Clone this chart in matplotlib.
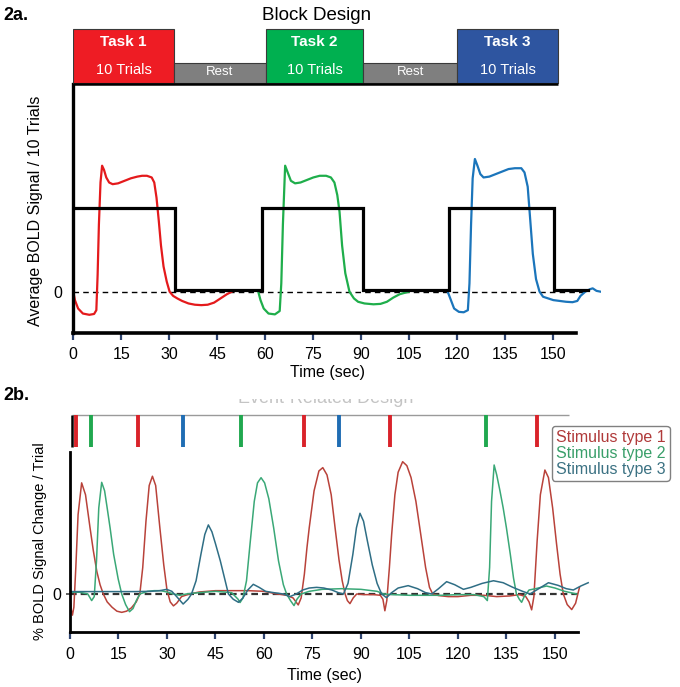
import matplotlib
matplotlib.use('Agg')
import matplotlib.pyplot as plt
from matplotlib.patches import Rectangle
from matplotlib.lines import Line2D

plt.rcParams['font.family'] = ['Liberation Sans', 'DejaVu Sans']

# ---------------- Panel 2a data ----------------
block_labels = ['Task 1', 'Rest', 'Task 2', 'Rest', 'Task 3']
block_sublabels = ['10 Trials', '', '10 Trials', '', '10 Trials']
block_edges = [0, 31.4, 60.2, 90.6, 120.0, 151.5]
block_colors = ['#ee1c24', '#7f7f7f', '#00b050', '#7f7f7f', '#2e55a0']
design_on = [0, 59.0, 117.4]
design_off = [31.8, 90.6, 150.2]
design_end = 160.7
design_high = 1.0
design_low = 0.02

task1_t = [0, 0.5, 1.5, 3, 5, 6.5, 7.2, 7.6, 8.0, 8.5, 9.0, 9.6, 10.3, 11.2, 12.3, 14, 16, 18, 20, 21.5,
           23, 24.5, 25.3, 26.0, 26.7, 27.4, 28.2, 29.2, 30.1, 31.2, 32.5, 34, 36, 38, 40, 42, 44, 46, 48, 49.5]
task1_y = [0, -0.1, -0.2, -0.26, -0.275, -0.265, -0.22, 0.2, 0.8, 1.3, 1.5, 1.45, 1.36, 1.3, 1.28, 1.29, 1.32,
           1.35, 1.37, 1.38, 1.38, 1.36, 1.3, 1.12, 0.85, 0.55, 0.3, 0.12, 0.0, -0.05, -0.08, -0.11, -0.14,
           -0.155, -0.16, -0.155, -0.13, -0.08, -0.03, 0.0]

task2_t = [57.8, 58.5, 59.5, 61, 63, 64.5, 65.0, 65.5, 66.2, 67, 68, 69.3, 71, 73, 75, 77, 79, 80.5, 81.6,
           82.5, 83.2, 84.0, 85.0, 86.3, 87.7, 89, 91, 93.8, 96, 98, 100, 102, 104.8]
task2_y = [0, -0.1, -0.2, -0.26, -0.27, -0.23, 0.1, 0.8, 1.5, 1.42, 1.32, 1.29, 1.3, 1.33, 1.36, 1.38,
           1.38, 1.36, 1.3, 1.15, 0.95, 0.55, 0.22, 0.0, -0.08, -0.12, -0.14, -0.15, -0.145, -0.12, -0.07,
           -0.03, 0.0]

task3_t = [117, 118, 119, 120.5, 122, 123.3, 123.8, 124.3, 124.8, 125.5, 126.3, 127.2, 128.2, 130, 132,
           134, 136, 138, 140, 141, 142, 142.8, 143.6, 144.6, 145.7, 146.8, 148.4, 150, 152, 154, 156,
           157.5, 158.5, 160, 161.5, 162.3, 163.5, 164.8]
task3_y = [0, -0.1, -0.2, -0.24, -0.245, -0.22, 0.1, 0.8, 1.35, 1.58, 1.5, 1.4, 1.36, 1.37, 1.4, 1.43,
           1.46, 1.47, 1.47, 1.42, 1.25, 0.85, 0.45, 0.15, 0.0, -0.06, -0.08, -0.1, -0.11, -0.12, -0.125,
           -0.11, -0.05, 0.0, 0.03, 0.04, 0.01, 0.0]

time_ticks = [0, 15, 30, 45, 60, 75, 90, 105, 120, 135, 150]

# ---------------- Panel 2b data ----------------
stim_times = [1.8, 6.5, 21.1, 34.9, 53.0, 72.5, 83.2, 99.1, 128.6, 144.5]
stim_types = [1, 2, 1, 3, 2, 1, 3, 1, 2, 1]
stim_names = ['Stimulus type 1', 'Stimulus type 2', 'Stimulus type 3']

type1_t = [0, 0.4, 0.75, 1.2, 1.8, 2.5, 3.6, 4.8, 6.2, 7.2, 8.3, 9.3, 10.3, 11.5, 13, 14.5, 16, 17.5, 19,
           20.5, 21.6, 22.5, 23.5, 24.5, 25.5, 26.5, 27.8, 29, 30, 31, 32, 33, 34.5, 37, 40, 45, 50, 55, 60,
           64, 67, 69, 70.6, 71.5, 72.5, 73.3, 74.0, 75.5, 77, 78.2, 79.5, 80.8, 82, 83.2, 84.2, 85.1, 85.8,
           86.6, 87.6, 88.7, 91, 94, 96, 96.8, 97.4, 98, 98.8, 99.5, 100.5, 101.5, 102.9, 104.2, 105.5, 107,
           108.5, 110, 111.2, 112.2, 114, 117, 120, 124, 128, 132, 136, 139, 141, 142, 142.8, 143.5, 144.5,
           145.5, 146.9, 148, 149.3, 150.5, 151.6, 152.6, 153.8, 155.2, 156.4, 157.6]
type1_y = [0, -0.12, -0.16, -0.1, 0.2, 0.6, 0.84, 0.75, 0.5, 0.33, 0.17, 0.07, 0.0, -0.06, -0.1, -0.13,
           -0.139, -0.13, -0.105, -0.06, 0.0, 0.2, 0.55, 0.82, 0.89, 0.82, 0.5, 0.22, 0.03, -0.06, -0.09,
           -0.07, -0.02, 0.0, 0.015, 0.025, 0.025, 0.025, 0.02, 0.0, -0.01, -0.03, -0.083, -0.03, 0.15, 0.35,
           0.5, 0.78, 0.93, 0.955, 0.9, 0.75, 0.5, 0.26, 0.1, 0.0, -0.05, -0.073, -0.03, 0.0, -0.005, -0.005,
           -0.01, -0.04, -0.127, -0.05, 0.2, 0.45, 0.75, 0.92, 1.0, 0.97, 0.88, 0.7, 0.45, 0.2, 0.05, 0.0,
           -0.012, -0.02, -0.02, -0.01, -0.01, -0.02, -0.015, -0.005, -0.02, -0.06, -0.12, -0.02, 0.4, 0.75,
           0.937, 0.88, 0.65, 0.38, 0.15, 0.0, -0.08, -0.118, -0.07, 0.05]

type2_t = [0, 3, 5.5, 6.7, 7.5, 8.2, 8.9, 9.8, 10.7, 11.5, 12.4, 13.5, 14.9, 16, 17.2, 18.4, 19.5, 20.5,
           21.6, 24, 26, 28, 30, 32, 34, 36, 40, 45, 50, 52, 52.6, 53.5, 54.6, 55.7, 57, 58, 59.1, 60.2,
           61.5, 63, 64.5, 66, 67, 68.2, 69.3, 70.2, 71.5, 74, 78, 84, 90, 95, 97, 100, 105, 110, 115, 120,
           125, 128, 129.1, 129.8, 130.4, 131.2, 132, 133, 134, 135, 136.2, 137.2, 138.1, 139, 139.7, 140.5,
           142, 144, 147.4, 150, 153, 156.7]
type2_y = [0.013, 0.013, 0.0, -0.05, -0.02, 0.25, 0.65, 0.844, 0.78, 0.65, 0.5, 0.3, 0.114, 0.0, -0.08,
           -0.134, -0.11, -0.05, 0.0, 0.02, 0.025, 0.025, 0.015, 0.0, -0.01, 0.0, 0.01, 0.02, 0.01, -0.04,
           -0.065, -0.03, 0.1, 0.38, 0.7, 0.84, 0.879, 0.84, 0.72, 0.5, 0.25, 0.07, 0.0, -0.05, -0.088,
           -0.04, 0.0, 0.02, 0.035, 0.04, 0.035, 0.02, 0.0, -0.005, -0.01, -0.01, -0.01, -0.005, -0.005,
           -0.02, -0.05, 0.2, 0.7, 0.975, 0.9, 0.78, 0.65, 0.5, 0.3, 0.12, 0.0, -0.04, -0.063, -0.02, 0.03,
           0.04, 0.06, 0.045, 0.02, 0.0]

type3_t = [0, 5, 10, 15, 20, 25, 27.8, 29.9, 31.5, 33, 35, 36.5, 37.6, 39, 40.5, 41.7, 42.8, 43.9, 45,
           46.5, 48, 49, 50.5, 52.1, 53.5, 55, 56.7, 58.5, 60.5, 63, 66, 68, 70, 72, 74, 76.3, 78.5, 81, 83,
           84.6, 86, 87.5, 88.6, 89.7, 90.8, 92, 93.5, 95, 96.4, 97.9, 99.5, 101.5, 104.6, 107.5, 110, 111.9,
           114, 116.5, 119, 121.7, 124, 127.5, 131, 134, 137, 140, 142.3, 145, 148, 151, 153.5, 155.7, 158,
           160.3]
type3_y = [0.018, 0.018, 0.018, 0.018, 0.018, 0.02, 0.025, 0.035, 0.02, -0.02, -0.076, -0.04, 0.0, 0.1,
           0.3, 0.45, 0.522, 0.47, 0.38, 0.25, 0.1, 0.0, -0.04, -0.063, -0.03, 0.03, 0.073, 0.05, 0.02, 0.01,
           0.0, -0.02, 0.0, 0.03, 0.045, 0.05, 0.045, 0.03, 0.01, 0.0, 0.08, 0.3, 0.5, 0.61, 0.55, 0.4, 0.22,
           0.08, 0.0, -0.028, 0.01, 0.045, 0.063, 0.04, 0.01, 0.0, 0.04, 0.093, 0.07, 0.035, 0.05, 0.08, 0.1,
           0.085, 0.05, 0.02, 0.0, 0.04, 0.085, 0.065, 0.04, 0.03, 0.06, 0.085]

# ---------------- styles ----------------
W, H = 680, 687
fig = plt.figure(figsize=(W / 100, H / 100), dpi=100)
tick_col = '#2f4470'
task_line_cols = ['#e41a1c', '#1fae4b', '#1b75bb']
stim_bar_cols = {1: '#d9232a', 2: '#20a84f', 3: '#1f6db3'}
resp_cols = ['#b9423a', '#3aa877', '#2f6e85']
legend_text_cols = ['#b03a3a', '#3a9f6a', '#3c7283']


def fig_axes(x0, x1, y0, y1):
    return fig.add_axes([x0 / W, 1 - y1 / H, (x1 - x0) / W, (y1 - y0) / H])


# ================= Panel 2a =================
ax = fig_axes(73.3, 601.3, 6.1, 342.1)
ax.set_xlim(0, 165)
ax.set_ylim(-0.6, 3.4)
for s in ['top', 'right']:
    ax.spines[s].set_visible(False)
ax.spines['left'].set_linewidth(2.4)
ax.spines['left'].set_bounds(-0.495, 2.47)
ax.spines['bottom'].set_linewidth(2.6)
ax.spines['bottom'].set_position(('data', -0.495))
ax.spines['bottom'].set_bounds(0, 157)
ax.set_xticks(time_ticks)
ax.tick_params(axis='x', direction='out', length=5, width=1.6, color=tick_col,
               labelsize=11.5, pad=5)
ax.xaxis.get_major_ticks()[0].tick1line.set_color('#b0b0b0')
ax.set_yticks([0])
ax.set_yticklabels(['0'])
ax.tick_params(axis='y', length=0, labelsize=11.5, pad=8)
ax.set_xlabel('Time (sec)', fontsize=11.5)
ax.xaxis.set_label_coords(0.4805, -0.068)
ax.set_ylabel('Average BOLD Signal / 10 Trials', fontsize=11.5)
ax.yaxis.set_label_coords(-0.0574, 0.39)

# block design boxes
for i in range(len(block_labels)):
    x0, x1 = block_edges[i], block_edges[i + 1]
    is_task = block_sublabels[i] != ''
    top = 3.127 if is_task else 2.72
    ax.add_patch(Rectangle((x0, 2.485), x1 - x0, top - 2.485, facecolor=block_colors[i],
                           edgecolor='#3a3a3a', linewidth=0.8, zorder=3))
    xc = (x0 + x1) / 2
    if is_task:
        ax.text(xc, 2.97, block_labels[i], color='white', fontsize=11, fontweight='bold',
                ha='center', va='center', zorder=4)
        ax.text(xc, 2.64, block_sublabels[i], color='white', fontsize=10.5,
                ha='center', va='center', zorder=4)
    else:
        ax.text(xc, 2.61, block_labels[i], color='white', fontsize=9.5,
                ha='center', va='center', zorder=4)
ax.hlines(2.475, block_edges[0], block_edges[-1], color='black', linewidth=1.8, zorder=3)
ax.text(76, 3.294, 'Block Design', fontsize=13.5, ha='center', va='center')

ax.hlines(0, 0, 159.3, color='black', linewidth=1.0, linestyles=(0, (4, 3)), zorder=1)
for tt, yy, c in zip([task1_t, task2_t, task3_t], [task1_y, task2_y, task3_y], task_line_cols):
    ax.plot(tt, yy, color=c, linewidth=1.6, zorder=2)

sq_x = [design_on[0]]
sq_y = [design_high]
for i in range(len(design_on)):
    if i > 0:
        sq_x += [design_on[i], design_on[i]]
        sq_y += [design_low, design_high]
    sq_x += [design_off[i], design_off[i]]
    sq_y += [design_high, design_low]
sq_x.append(design_end)
sq_y.append(design_low)
ax.plot(sq_x, sq_y, color='black', linewidth=2.3, solid_joinstyle='miter', zorder=3)

# ================= Panel 2b =================
bx = fig_axes(70, 603.4, 398.5, 636.3)
bx.set_xlim(0, 165)
bx.set_ylim(-0.32, 1.4777)
for s in ['top', 'right']:
    bx.spines[s].set_visible(False)
bx.spines['left'].set_linewidth(2.0)
bx.spines['left'].set_bounds(-0.287, 1.073)
bx.spines['bottom'].set_linewidth(2.0)
bx.spines['bottom'].set_position(('data', -0.287))
bx.spines['bottom'].set_bounds(0, 157)
bx.set_xticks(time_ticks)
bx.tick_params(axis='x', direction='out', length=5, width=1.6, color=tick_col,
               labelsize=11.5, pad=6)
bx.xaxis.get_major_ticks()[0].tick1line.set_color('#b0b0b0')
bx.set_yticks([0])
bx.set_yticklabels(['0'])
bx.tick_params(axis='y', length=3, width=1.2, color='#444444', labelsize=11.5, pad=3)
bx.set_xlabel('Time (sec)', fontsize=11.5)
bx.xaxis.set_label_coords(0.478, -0.132)
bx.set_ylabel('% BOLD Signal Change / Trial', fontsize=10.5)
bx.yaxis.set_label_coords(-0.043, 0.40)

# faint, cut-off heading of the stimulus timeline
bx.text(79, 1.444, 'Event-Related Design', fontsize=13, color='#c4c4c4', ha='center',
        va='baseline', clip_on=True)
# stimulus timeline
bx.hlines(1.353, 0.7, 154.5, color='#9a9a9a', linewidth=1.0)
bx.vlines(0.7, 1.111, 1.353, color='black', linewidth=1.8)
for st, ty in zip(stim_times, stim_types):
    bx.vlines(st, 1.111, 1.353, color=stim_bar_cols[ty], linewidth=2.8)

bx.hlines(0, 0, 158.5, color='#333333', linewidth=1.6, linestyles=(0, (3, 1.8)), zorder=1)
for tt, yy, c in zip([type1_t, type2_t, type3_t], [type1_y, type2_y, type3_y], resp_cols):
    bx.plot(tt, yy, color=c, linewidth=1.1, zorder=2)

handles = [Line2D([], [], color=c, linewidth=0) for c in resp_cols]
leg = bx.legend(handles, stim_names, loc='upper left', bbox_to_anchor=(552 / W, 1 - 426 / H),
                bbox_transform=fig.transFigure, handlelength=0, handletextpad=0, fontsize=11.5,
                labelcolor=legend_text_cols, frameon=True, fancybox=True, framealpha=1,
                edgecolor='#808080', borderpad=0.25, labelspacing=0.05, borderaxespad=0)
leg.get_frame().set_linewidth(1.0)

fig.text(3 / W, 1 - 16 / H, '2a.', fontsize=13, fontweight='bold', ha='left', va='center')
fig.text(3 / W, 1 - 396 / H, '2b.', fontsize=13, fontweight='bold', ha='left', va='center')

fig.savefig('out.png', dpi=100)
